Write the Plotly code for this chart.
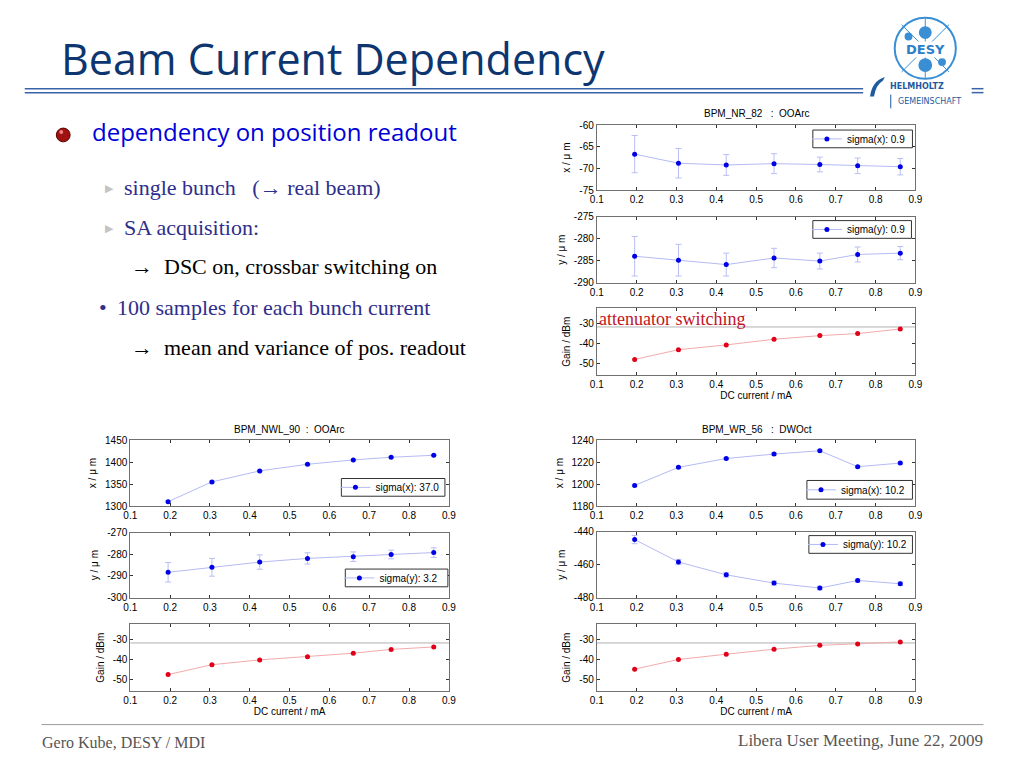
import plotly.graph_objects as go

# ---------------- data ----------------
current = [0.195, 0.305, 0.425, 0.545, 0.66, 0.755, 0.862]
x_ticks = [0.1, 0.2, 0.3, 0.4, 0.5, 0.6, 0.7, 0.8, 0.9]
x_ticklabels = ["0.1", "0.2", "0.3", "0.4", "0.5", "0.6", "0.7", "0.8", "0.9"]

panel_titles = ["BPM_NR_82\u00a0\u00a0\u00a0:\u00a0\u00a0OOArc",
                "BPM_NWL_90\u00a0\u00a0:\u00a0\u00a0OOArc",
                "BPM_WR_56\u00a0\u00a0\u00a0:\u00a0\u00a0DWOct"]

# BPM_NR_82
nr82_x = [-66.7, -68.8, -69.2, -68.9, -69.1, -69.4, -69.6]
nr82_x_err = [4.3, 3.4, 2.4, 2.3, 1.7, 1.8, 1.9]
nr82_y = [-284.0, -284.9, -285.9, -284.4, -285.1, -283.6, -283.3]
nr82_y_err = [4.5, 3.6, 2.6, 2.2, 1.8, 1.7, 1.5]
nr82_gain = [-47.9, -43.1, -40.7, -37.9, -36.1, -35.1, -32.8]
nr82_sigma = ["sigma(x): 0.9", "sigma(y): 0.9"]

# BPM_NWL_90
nwl90_x = [1310, 1355, 1380, 1395, 1405, 1411, 1415.5]
nwl90_x_err = [2.0, 1.8, 1.6, 1.4, 1.3, 1.2, 1.2]
nwl90_y = [-288.3, -286.0, -283.6, -281.9, -281.1, -280.1, -279.2]
nwl90_y_err = [4.5, 4.1, 3.3, 2.6, 2.2, 2.0, 2.2]
nwl90_gain = [-47.5, -42.6, -40.2, -38.6, -36.9, -35.0, -33.8]
nwl90_sigma = ["sigma(x): 37.0", "sigma(y): 3.2"]

# BPM_WR_56
wr56_x = [1198.8, 1215.2, 1223.3, 1227.3, 1230.3, 1215.8, 1219.1]
wr56_x_err = [1.0, 1.0, 0.9, 0.9, 0.8, 0.8, 0.8]
wr56_y = [-444.8, -458.4, -466.2, -471.2, -474.2, -469.6, -471.6]
wr56_y_err = [2.5, 1.6, 1.4, 1.2, 1.1, 1.0, 1.0]
wr56_gain = [-44.8, -40.0, -37.4, -34.9, -33.0, -32.3, -31.3]
wr56_sigma = ["sigma(x): 10.2", "sigma(y): 10.2"]

gain_threshold = -31.8

# y-axis ranges and tick values
x_ranges = [[-75, -60], [1300, 1450], [1180, 1240]]
x_axis_ticks = [[-75, -70, -65, -60], [1300, 1350, 1400, 1450], [1180, 1200, 1220, 1240]]
y_ranges = [[-290, -275], [-300, -270], [-480, -440]]
y_axis_ticks = [[-290, -285, -280, -275], [-300, -290, -280, -270], [-480, -460, -440]]
gain_range = [-55.7, -22.5]
gain_ticks = [-50, -40, -30]

panels = [
    (nr82_x, nr82_x_err, nr82_y, nr82_y_err, nr82_gain, nr82_sigma),
    (nwl90_x, nwl90_x_err, nwl90_y, nwl90_y_err, nwl90_gain, nwl90_sigma),
    (wr56_x, wr56_x_err, wr56_y, wr56_y_err, wr56_gain, wr56_sigma),
]

# ---------------- layout helpers ----------------
W, H = 1024, 768
def px(v): return v / W
def py(v): return 1 - v / H

# pixel boxes (left, right) and (top, bottom) of each sub-plot
panel_x = [(598, 921), (125, 448), (598, 921)]
panel_y = [[(121, 187), (214, 281), (307, 375)],
           [(441, 508), (535, 601), (628, 696)],
           [(441, 508), (534, 601), (628, 696)]]
title_pos = [(760, 109), (286, 430), (760, 430)]
# legend boxes: (left, right, top, bottom)
legend_box = [[(817, 918, 126, 144), (817, 917, 218, 236)],
              [(339, 444, 480, 498), (343, 447, 572, 590)],
              [(811, 918, 482, 501), (813, 918, 538, 556)]]

AX_FONT = dict(family="Liberation Sans, Arial, sans-serif", size=10, color="#000000")
LEG_FONT = dict(family="Liberation Sans, Arial, sans-serif", size=10, color="#000000")
BLUE_LINE = "#b3bbf2"
BLUE_ERR = "#b8bef5"
BLUE_MK = "#0000e6"
RED_LINE = "#f2aaaa"
RED_MK = "#e0001a"

def labels(vals):
    return [str(v) for v in vals]  # plain hyphen-minus like the original

fig = go.Figure()
layout = {}
shapes = []
annotations = []

legend_count = 0
for p, (xv, xe, yv, ye, gv, sig) in enumerate(panels):
    for s in range(3):
        idx = p * 3 + s + 1
        xa = "x" if idx == 1 else f"x{idx}"
        ya = "y" if idx == 1 else f"y{idx}"
        xkey = "xaxis" if idx == 1 else f"xaxis{idx}"
        ykey = "yaxis" if idx == 1 else f"yaxis{idx}"
        l, r = panel_x[p]
        t, b = panel_y[p][s]
        layout[xkey] = dict(domain=[px(l), px(r)], anchor=ya, range=[0.1, 0.9],
                            tickvals=x_ticks, ticktext=x_ticklabels,
                            showline=True, linecolor="#707070", linewidth=1,
                            mirror="allticks", ticks="inside", ticklen=3,
                            tickcolor="#333333", showgrid=False, zeroline=False,
                            tickfont=AX_FONT, fixedrange=True)
        layout[ykey] = dict(domain=[py(b), py(t)], anchor=xa,
                            showline=True, linecolor="#707070", linewidth=1,
                            mirror="allticks", ticks="inside", ticklen=3,
                            tickcolor="#333333", showgrid=False, zeroline=False,
                            tickfont=AX_FONT, fixedrange=True,
                            title=dict(font=AX_FONT, standoff=6))
        if s == 0 or s == 1:
            vals = xv if s == 0 else yv
            errs = xe if s == 0 else ye
            if s == 0:
                layout[ykey].update(range=x_ranges[p], tickvals=x_axis_ticks[p],
                                    ticktext=labels(x_axis_ticks[p]))
                layout[ykey]["title"]["text"] = "x\u00a0/\u00a0\u03bc\u00a0m"
            else:
                layout[ykey].update(range=y_ranges[p], tickvals=y_axis_ticks[p],
                                    ticktext=labels(y_axis_ticks[p]))
                layout[ykey]["title"]["text"] = "y\u00a0/\u00a0\u03bc\u00a0m"
            legend_count += 1
            lkey = "legend" if legend_count == 1 else f"legend{legend_count}"
            bl, br, bt, bb = legend_box[p][s]
            shapes.append(dict(type="rect", xref="paper", yref="paper",
                               x0=px(bl), x1=px(br), y0=py(bb), y1=py(bt),
                               fillcolor="white", line=dict(color="#333333", width=1), layer="above"))
            layout[lkey] = dict(x=px(bl - 6), y=py((bt + bb) / 2), xanchor="left", yanchor="middle",
                                bgcolor="rgba(0,0,0,0)", borderwidth=0,
                                font=LEG_FONT, itemwidth=30, tracegroupgap=0)
            fig.add_trace(go.Scatter(
                x=current, y=vals, xaxis=xa, yaxis=ya, mode="lines+markers",
                name=sig[s], legend=lkey, showlegend=True,
                line=dict(color=BLUE_LINE, width=1),
                marker=dict(color=BLUE_MK, size=5),
                error_y=dict(type="data", array=errs, visible=True,
                             color=BLUE_ERR, thickness=1, width=3)))
        else:
            layout[ykey].update(range=gain_range, tickvals=gain_ticks,
                                ticktext=labels(gain_ticks))
            layout[ykey]["title"]["text"] = "Gain\u00a0/\u00a0dBm"
            layout[xkey]["title"] = dict(text="DC current / mA", font=AX_FONT, standoff=2)
            shapes.append(dict(type="line", xref=f"{xa} domain", yref=ya,
                               x0=0, x1=1, y0=gain_threshold, y1=gain_threshold,
                               line=dict(color="#b0b0b0", width=1), layer="below"))
            fig.add_trace(go.Scatter(
                x=current, y=gv, xaxis=xa, yaxis=ya, mode="lines+markers",
                showlegend=False, line=dict(color=RED_LINE, width=1),
                marker=dict(color=RED_MK, size=5)))
    tx, ty = title_pos[p]
    annotations.append(dict(text=panel_titles[p], x=px(tx), y=py(ty), xref="paper", yref="paper",
                            showarrow=False, font=AX_FONT, xanchor="center", yanchor="middle"))

annotations.append(dict(text="attenuator switching", x=px(598), y=py(318), xref="paper", yref="paper",
                        showarrow=False, xanchor="left", yanchor="middle",
                        font=dict(family="Liberation Serif, Times New Roman, serif", size=18, color="#c0141e")))

# ---------------- slide decoration ----------------
TITLE_COL = "#0d3670"
annotations.append(dict(text="Beam Current Dependency", x=px(53), y=py(53), xref="paper", yref="paper",
                        showarrow=False, xanchor="left", yanchor="middle",
                        font=dict(family="Comic Sans MS, Open Sans, sans-serif", size=43, color=TITLE_COL)))
for yy in (84, 88):
    shapes.append(dict(type="line", xref="paper", yref="paper", x0=px(18), x1=px(868), y0=py(yy), y1=py(yy),
                       line=dict(color="#3a64a8", width=1.5)))
    shapes.append(dict(type="line", xref="paper", yref="paper", x0=px(978), x1=px(990), y0=py(yy), y1=py(yy),
                       line=dict(color="#3a64a8", width=1.5)))

# DESY logo
LOGO = "#3a8fd4"
shapes.append(dict(type="circle", xref="paper", yref="paper", x0=px(900), x1=px(962), y0=py(74), y1=py(12),
                   line=dict(color=LOGO, width=2), fillcolor="white"))
for (x0, y0, x1, y1) in [(907, 19, 955, 67), (955, 19, 907, 67)]:
    shapes.append(dict(type="line", xref="paper", yref="paper", x0=px(x0), x1=px(x1), y0=py(y0), y1=py(y1),
                       line=dict(color=LOGO, width=1)))
shapes.append(dict(type="line", xref="paper", yref="paper", x0=px(931), x1=px(931), y0=py(13), y1=py(73),
                   line=dict(color=LOGO, width=1)))
for (cx, cy, rr) in [(931, 27, 6.5), (931, 60, 7), (914, 31, 4), (948, 57, 4)]:
    shapes.append(dict(type="circle", xref="paper", yref="paper", x0=px(cx - rr), x1=px(cx + rr),
                       y0=py(cy + rr), y1=py(cy - rr), line=dict(color=LOGO, width=0), fillcolor=LOGO))
annotations.append(dict(text="<b>DESY</b>", x=px(931), y=py(44), xref="paper", yref="paper", showarrow=False,
                        xanchor="center", yanchor="middle", bgcolor="white", borderpad=0,
                        font=dict(family="DejaVu Sans, sans-serif", size=13, color="#2a7fc8")))
shapes.append(dict(type="path", xref="paper", yref="paper",
                   path=f"M {px(875)} {py(92)} Q {px(877)} {py(76)} {px(890)} {py(72)} L {px(888)} {py(76)} Q {px(881)} {py(80)} {px(879)} {py(92)} Z",
                   fillcolor="#1e5aa0", line=dict(width=0)))
annotations.append(dict(text="<b>HELMHOLTZ</b>", x=px(893), y=py(82), xref="paper", yref="paper", showarrow=False,
                        xanchor="left", yanchor="middle",
                        font=dict(family="DejaVu Sans, sans-serif", size=8, color="#1e5aa0")))
annotations.append(dict(text="GEMEINSCHAFT", x=px(901), y=py(97), xref="paper", yref="paper", showarrow=False,
                        xanchor="left", yanchor="middle",
                        font=dict(family="DejaVu Sans, sans-serif", size=8, color="#1e5aa0")))
shapes.append(dict(type="line", xref="paper", yref="paper", x0=px(896), x1=px(896), y0=py(90), y1=py(104),
                   line=dict(color="#1e5aa0", width=1)))

# bullets
shapes.append(dict(type="circle", xref="paper", yref="paper", x0=px(50), x1=px(64), y0=py(138), y1=py(124),
                   fillcolor="#a01212", line=dict(color="#5a0000", width=1)))
shapes.append(dict(type="circle", xref="paper", yref="paper", x0=px(53), x1=px(57), y0=py(130), y1=py(126),
                   fillcolor="#f08080", line=dict(width=0)))
annotations.append(dict(text="dependency on position readout", x=px(84), y=py(128), xref="paper", yref="paper",
                        showarrow=False, xanchor="left", yanchor="middle",
                        font=dict(family="Comic Sans MS, Open Sans, sans-serif", size=24, color="#0000d8")))

SERIF = "Liberation Serif, Times New Roman, serif"
SUB_COL = "#2e2e8c"
lines = [
    (97, 185, "\u25b6", 11, "#c4c4c4"),
    (117, 184, "single bunch\u00a0\u00a0\u00a0(\u2192 real beam)", 22, SUB_COL),
    (97, 226, "\u25b6", 11, "#c4c4c4"),
    (117, 225, "SA acquisition:", 22, SUB_COL),
    (124, 265, "\u2192\u00a0\u00a0DSC on, crossbar switching on", 22, "#000000"),
    (91, 306, "\u2022", 22, SUB_COL),
    (109, 306, "100 samples for each bunch current", 22, SUB_COL),
    (124, 347, "\u2192\u00a0\u00a0mean and variance of pos. readout", 22, "#000000"),
]
for (x0, y0, txt, sz, col) in lines:
    annotations.append(dict(text=txt, x=px(x0), y=py(y0), xref="paper", yref="paper", showarrow=False,
                            xanchor="left", yanchor="middle", font=dict(family=SERIF, size=sz, color=col)))

# footer
shapes.append(dict(type="line", xref="paper", yref="paper", x0=px(35), x1=px(990), y0=py(730), y1=py(730),
                   line=dict(color="#9a9a9a", width=1)))
annotations.append(dict(text="Gero Kube, DESY / MDI", x=px(33), y=py(748), xref="paper", yref="paper",
                        showarrow=False, xanchor="left", yanchor="middle",
                        font=dict(family=SERIF, size=16, color="#555555")))
annotations.append(dict(text="Libera User Meeting, June 22, 2009", x=px(992), y=py(746), xref="paper", yref="paper",
                        showarrow=False, xanchor="right", yanchor="middle",
                        font=dict(family=SERIF, size=17, color="#555555")))

fig.update_layout(**layout)
fig.update_layout(width=W, height=H, margin=dict(l=0, r=0, t=0, b=0),
                  paper_bgcolor="white", plot_bgcolor="white",
                  shapes=shapes, annotations=annotations,
                  font=AX_FONT)
fig.write_html("out.html", config={"displayModeBar": False},
               post_script="document.body.style.margin='0';document.body.style.overflow='hidden';")
